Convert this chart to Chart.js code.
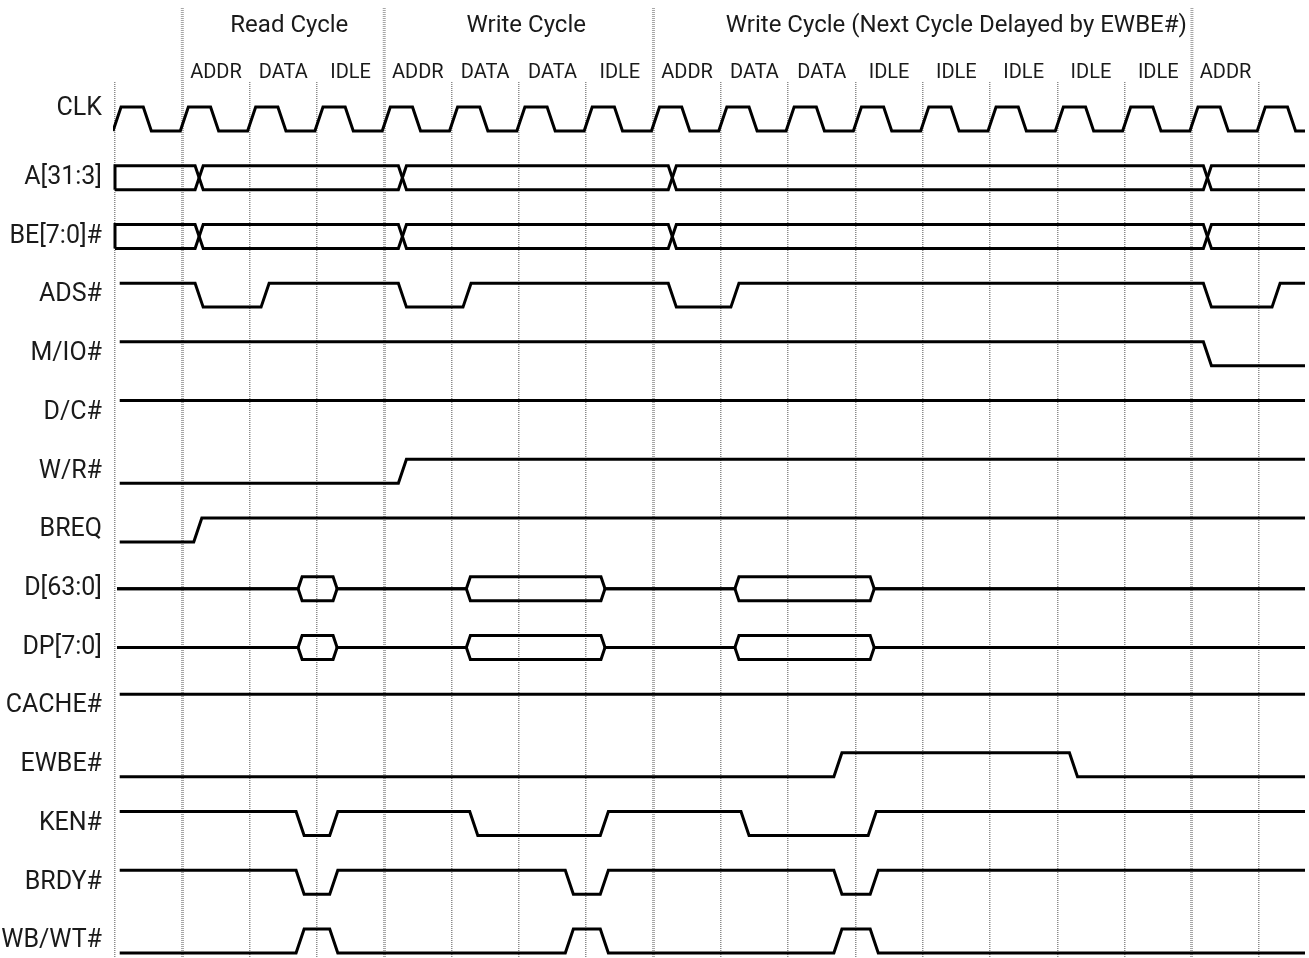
<!DOCTYPE html>
<html>
<head>
<meta charset="utf-8">
<script src="https://cdn.jsdelivr.net/npm/chart.js@4.4.1/dist/chart.umd.min.js"></script>
<style>
  html, body { margin: 0; padding: 0; background: #fff; }
  .chart-wrap { width: 1309px; height: 958px; position: relative; }
</style>
</head>
<body>
<div class="chart-wrap"><canvas id="timingChart"></canvas></div>
<script>
// signal rows, top to bottom
const signalNames = ['CLK', 'A[31:3]', 'BE[7:0]#', 'ADS#', 'M/IO#', 'D/C#', 'W/R#', 'BREQ',
  'D[63:0]', 'DP[7:0]', 'CACHE#', 'EWBE#', 'KEN#', 'BRDY#', 'WB/WT#'];

// phase names over each clock cycle, and where they sit (in clocks)
const phaseNames = ['ADDR', 'DATA', 'IDLE', 'ADDR', 'DATA', 'DATA', 'IDLE', 'ADDR',
  'DATA', 'DATA', 'IDLE', 'IDLE', 'IDLE', 'IDLE', 'IDLE', 'ADDR'];
const phaseAt = [1.5, 2.5, 3.5, 4.5, 5.5, 6.5, 7.5, 8.5, 9.5, 10.5, 11.5, 12.5, 13.5, 14.5, 15.5, 16.5];

const cycleTitles = ['Read Cycle', 'Write Cycle', 'Write Cycle (Next Cycle Delayed by EWBE#)'];
const cycleTitleAt = [2.59, 6.11, 12.5];

// clock boundaries (dotted lines); the bus-cycle starts are drawn heavier
const clockTicks = [0, 1, 2, 3, 4, 5, 6, 7, 8, 9, 10, 11, 12, 13, 14, 15, 16, 17];
const cycleStarts = [1, 4, 8, 16];

// edges: [time in clocks where the edge starts, new level]
const clkEdges = [[-0.03, 1], [0.42, 0], [0.97, 1], [1.42, 0], [1.97, 1], [2.42, 0], [2.97, 1], [3.42, 0],
  [3.97, 1], [4.42, 0], [4.97, 1], [5.42, 0], [5.97, 1], [6.42, 0], [6.97, 1], [7.42, 0],
  [7.97, 1], [8.42, 0], [8.97, 1], [9.42, 0], [9.97, 1], [10.42, 0], [10.97, 1], [11.42, 0],
  [11.97, 1], [12.42, 0], [12.97, 1], [13.42, 0], [13.97, 1], [14.42, 0], [14.97, 1], [15.42, 0],
  [15.97, 1], [16.42, 0], [16.97, 1], [17.42, 0]];
const addrChanges = [1.19, 4.21, 8.22, 16.17];
const beChanges = [1.19, 4.21, 8.22, 16.17];
const adsEdges = [[1.19, 0], [2.17, 1], [4.21, 0], [5.17, 1], [8.22, 0], [9.15, 1], [16.17, 0], [17.19, 1]];
const mioEdges = [[16.17, 0]];
const dcEdges = [];
const wrEdges = [[4.21, 1]];
const breqEdges = [[1.17, 1]];
const dataValid = [[2.72, 3.24], [5.22, 7.22], [9.21, 11.22]];
const parityValid = [[2.72, 3.24], [5.22, 7.22], [9.21, 11.22]];
const cacheEdges = [];
const ewbeEdges = [[10.68, 1], [14.18, 0]];
const kenEdges = [[2.69, 0], [3.19, 1], [5.27, 0], [7.21, 1], [9.30, 0], [11.19, 1]];
const brdyEdges = [[2.69, 0], [3.19, 1], [6.69, 0], [7.21, 1], [10.68, 0], [11.22, 1]];
const wbwtEdges = [[2.69, 1], [3.19, 0], [6.69, 1], [7.21, 0], [10.68, 1], [11.22, 0]];

const END = 17.68;
const SLOPE = 0.12;
const BUS_SLOPE = 0.06;
const AMP = 0.204;
const FONT = "Roboto, 'Liberation Sans', sans-serif";

const lvl = (row, v) => (v ? row - AMP : row + AMP);

function digital(row, start, startLevel, edges) {
  const pts = [{ x: start, y: lvl(row, startLevel) }];
  let cur = startLevel;
  edges.forEach(([t, v]) => {
    pts.push({ x: t, y: lvl(row, cur) }, { x: t + SLOPE, y: lvl(row, v) });
    cur = v;
  });
  pts.push({ x: END, y: lvl(row, cur) });
  return pts;
}

// bus with X crossings; one rail also draws the closed left end
function busRail(row, changes, startHigh, closeLeft) {
  let cur = startHigh ? 1 : 0;
  const pts = closeLeft ? [{ x: 0, y: lvl(row, 1 - cur) }] : [];
  pts.push({ x: 0, y: lvl(row, cur) });
  changes.forEach((t) => {
    pts.push({ x: t, y: lvl(row, cur) }, { x: t + SLOPE, y: lvl(row, 1 - cur) });
    cur = 1 - cur;
  });
  pts.push({ x: END, y: lvl(row, cur) });
  return pts;
}

// floating bus (mid level) opening into a hexagon while data is valid
function dataRail(row, windows, up) {
  const edge = up ? row - AMP : row + AMP;
  const pts = [{ x: 0.03, y: row }];
  windows.forEach(([a, b]) => {
    pts.push({ x: a, y: row }, { x: a + BUS_SLOPE, y: edge }, { x: b, y: edge }, { x: b + BUS_SLOPE, y: row });
  });
  pts.push({ x: END, y: row });
  return pts;
}

const traces = [
  digital(0, -0.03, 0, clkEdges),
  busRail(1, addrChanges, true, true), busRail(1, addrChanges, false, false),
  busRail(2, beChanges, true, true), busRail(2, beChanges, false, false),
  digital(3, 0.07, 1, adsEdges),
  digital(4, 0.07, 1, mioEdges),
  digital(5, 0.07, 1, dcEdges),
  digital(6, 0.07, 0, wrEdges),
  digital(7, 0.07, 0, breqEdges),
  dataRail(8, dataValid, true), dataRail(8, dataValid, false),
  dataRail(9, parityValid, true), dataRail(9, parityValid, false),
  digital(10, 0.07, 1, cacheEdges),
  digital(11, 0.07, 0, ewbeEdges),
  digital(12, 0.07, 1, kenEdges),
  digital(13, 0.07, 1, brdyEdges),
  digital(14, 0.07, 0, wbwtEdges)
];

// keep tick labels from pushing the plot area around
function fixBox(w, h) {
  return (scale) => {
    if (w !== null) scale.width = w;
    if (h !== null) scale.height = h;
    scale.paddingTop = scale.paddingBottom = scale.paddingLeft = scale.paddingRight = 0;
  };
}

const overlay = {
  id: 'overlay',
  beforeDatasetsDraw(chart) {
    const { ctx, chartArea, scales: { x } } = chart;
    ctx.save();
    ctx.strokeStyle = '#a6a6a6';
    ctx.lineWidth = 3;
    ctx.setLineDash([1, 1]);
    cycleStarts.forEach((t) => {
      const px = x.getPixelForValue(t);
      ctx.beginPath();
      ctx.moveTo(px, 8);
      ctx.lineTo(px, chartArea.top);
      ctx.stroke();
    });
    ctx.restore();
  },
  afterDraw(chart) {
    const { ctx, scales: { x } } = chart;
    ctx.save();
    ctx.fillStyle = '#1a1a1a';
    ctx.font = `24px ${FONT}`;
    ctx.textAlign = 'center';
    ctx.textBaseline = 'middle';
    cycleTitles.forEach((s, i) => ctx.fillText(s, x.getPixelForValue(cycleTitleAt[i]), 26));
    ctx.restore();
  }
};

new Chart(document.querySelector('#timingChart'), {
  type: 'line',
  data: {
    datasets: traces.map((pts) => ({
      data: pts,
      borderColor: '#000',
      borderWidth: 3,
      pointRadius: 0,
      tension: 0,
      fill: false,
      clip: 2
    }))
  },
  options: {
    responsive: true,
    maintainAspectRatio: false,
    animation: false,
    events: [],
    layout: { padding: { right: 4, left: 0, top: 0, bottom: 0 } },
    plugins: { legend: { display: false }, tooltip: { enabled: false } },
    scales: {
      x: {
        type: 'linear',
        position: 'bottom',
        min: 0,
        max: END,
        afterBuildTicks: (scale) => { scale.ticks = clockTicks.map((v) => ({ value: v })); },
        afterFit: fixBox(null, 0),
        ticks: { display: false },
        grid: {
          drawTicks: false,
          color: (c) => (cycleStarts.includes(c.tick.value) ? '#a6a6a6' : '#8a8a8a'),
          lineWidth: (c) => (cycleStarts.includes(c.tick.value) ? 3 : 1.5)
        },
        border: { display: false, dash: [1, 1] }
      },
      phase: {
        type: 'linear',
        position: 'top',
        axis: 'x',
        min: 0,
        max: END,
        afterBuildTicks: (scale) => { scale.ticks = phaseAt.map((v) => ({ value: v })); },
        afterFit: fixBox(null, 82),
        ticks: {
          autoSkip: false,
          maxRotation: 0,
          padding: -3,
          color: '#1a1a1a',
          font: { family: FONT, size: 20 },
          callback: (v, i) => phaseNames[i]
        },
        grid: { display: false, drawTicks: false },
        border: { display: false }
      },
      y: {
        type: 'linear',
        reverse: true,
        min: -0.63,
        max: 14.29,
        // CLK's name sits a little above its row
        afterBuildTicks: (scale) => { scale.ticks = signalNames.map((n, i) => ({ value: i === 0 ? -0.17 : i })); },
        afterFit: fixBox(115, null),
        ticks: {
          padding: 13,
          color: '#1a1a1a',
          font: { family: FONT, size: 25 },
          callback: (v, i) => signalNames[i]
        },
        grid: { display: false, drawTicks: false },
        border: { display: false }
      }
    }
  },
  plugins: [overlay]
});
</script>
</body>
</html>
